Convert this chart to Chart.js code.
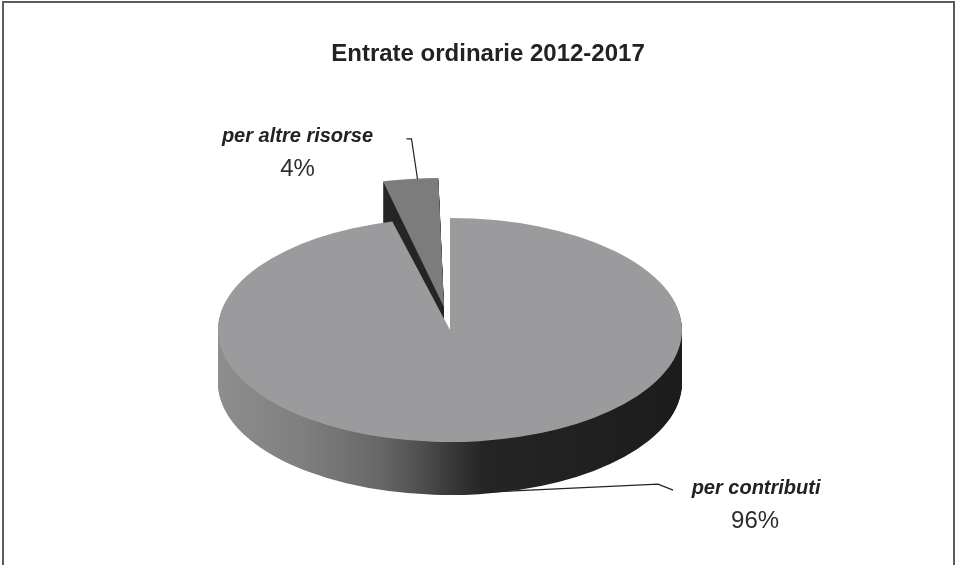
<!DOCTYPE html>
<html>
<head>
<meta charset="utf-8">
<script src="https://cdn.jsdelivr.net/npm/chart.js@4.4.1/dist/chart.umd.min.js"></script>
<style>
  html, body { margin: 0; padding: 0; background: #fff; }
  #wrap { position: relative; width: 956px; height: 565px; }
</style>
</head>
<body>
<div id="wrap"><canvas id="chart" width="956" height="565"></canvas></div>
<script>
// dati
const categories = ['per contributi', 'per altre risorse'];
const shares = [96, 4];
const percentLabels = ['96%', '4%'];
const chartTitle = 'Entrate ordinarie 2012-2017';

const FONT = "'Liberation Sans', Arial, Helvetica, sans-serif";

// cornice attorno al grafico (senza lato inferiore)
const framePlugin = {
  id: 'frame',
  beforeDraw(chart) {
    const ctx = chart.ctx;
    ctx.save();
    ctx.strokeStyle = '#5c5c5c';
    ctx.lineWidth = 2;
    ctx.beginPath();
    ctx.moveTo(3, chart.height);
    ctx.lineTo(3, 2);
    ctx.lineTo(954, 2);
    ctx.lineTo(954, chart.height);
    ctx.stroke();
    ctx.restore();
  }
};

// torta "3D": schiaccia in verticale e impila copie scure sotto per il bordo
const pie3d = {
  id: 'pie3d',
  beforeDatasetsDraw(chart, args, opts) {
    const ctx = chart.ctx;
    const arcs = chart.getDatasetMeta(0).data;
    const ox = arcs[0].x, oy = arcs[0].y;
    const r = arcs[0].outerRadius;
    const place = (dy) => {
      ctx.translate(opts.cx, opts.cy + dy);
      ctx.scale(1, opts.ratio);
      ctx.translate(-ox, -oy);
    };

    const side = ctx.createLinearGradient(ox - r, 0, ox + r, 0);
    side.addColorStop(0, '#8e8e8e');
    side.addColorStop(0.18, '#7f7f7f');
    side.addColorStop(0.35, '#676767');
    side.addColorStop(0.44, '#4e4e4e');
    side.addColorStop(0.5, '#3a3a3a');
    side.addColorStop(0.57, '#252525');
    side.addColorStop(1, '#1c1c1c');
    const sideColors = [side, '#262626'];

    for (let d = opts.depth; d > 0; d--) {
      ctx.save();
      place(d);
      arcs.forEach((arc, i) => {
        const o = arc.options;
        arc.options = Object.assign({}, o, { backgroundColor: sideColors[i], borderWidth: 0 });
        arc.draw(ctx);
        arc.options = o;
      });
      ctx.restore();
    }
    ctx.save();
    place(0);
  },
  afterDatasetsDraw(chart) {
    chart.ctx.restore();
  }
};

// etichette con linea di richiamo
const labelsPlugin = {
  id: 'sliceLabels',
  afterDraw(chart, args, opts) {
    const ctx = chart.ctx;
    const p3 = chart.options.plugins.pie3d;
    const arcs = chart.getDatasetMeta(0).data;
    arcs.forEach((arc, i) => {
      const mid = (arc.startAngle + arc.endAngle) / 2;
      // spostamento reale applicato da ArcElement.draw
      const off = (arc.options.offset || 0) / 4;
      const shift = off * (2 - Math.sin(Math.min(Math.PI, arc.circumference)));
      const rr = arc.outerRadius + shift;
      const ax = p3.cx + Math.cos(mid) * rr;
      const ay = p3.cy + Math.sin(mid) * rr * p3.ratio + (Math.sin(mid) > 0 ? p3.depth : 0);
      const lay = opts.layout[i];

      ctx.save();
      ctx.strokeStyle = '#222';
      ctx.lineWidth = 1.2;
      ctx.beginPath();
      ctx.moveTo(ax + lay.start[0], ay + lay.start[1]);
      ctx.lineTo(ax + lay.elbow[0], ay + lay.elbow[1]);
      ctx.lineTo(ax + lay.end[0], ay + lay.end[1]);
      ctx.stroke();

      ctx.textAlign = 'center';
      ctx.textBaseline = 'alphabetic';
      ctx.fillStyle = '#222';
      ctx.font = 'italic bold 20px ' + FONT;
      ctx.fillText(categories[i], ax + lay.text[0], ay + lay.text[1]);
      ctx.fillStyle = '#2e2e2e';
      ctx.font = '24px ' + FONT;
      ctx.fillText(percentLabels[i], ax + lay.pct[0], ay + lay.pct[1]);
      ctx.restore();
    });
  }
};

new Chart(document.getElementById('chart'), {
  type: 'pie',
  data: {
    labels: categories,
    datasets: [{
      data: shares,
      backgroundColor: ['#9b9b9d', '#7c7c7c'],
      borderWidth: 0,
      offset: [0, 190],
      radius: 232,
      clip: false
    }]
  },
  options: {
    responsive: false,
    animation: false,
    events: [],
    layout: { padding: { left: 20 } },
    plugins: {
      legend: { display: false },
      tooltip: { enabled: false },
      title: {
        display: true,
        text: chartTitle,
        color: '#222',
        font: { family: FONT, size: 24, weight: 'bold' },
        padding: { top: 40, bottom: 10 }
      },
      pie3d: { cx: 450, cy: 330, ratio: 0.483, depth: 53 },
      sliceLabels: {
        layout: [
          { start: [8, -2], elbow: [179, -10], end: [194, -4], text: [277, 0], pct: [276, 34] },
          { start: [7, 0], elbow: [1, -40], end: [-4, -40], text: [-113, -37], pct: [-113, -3] }
        ]
      }
    }
  },
  plugins: [framePlugin, pie3d, labelsPlugin]
});
</script>
</body>
</html>
